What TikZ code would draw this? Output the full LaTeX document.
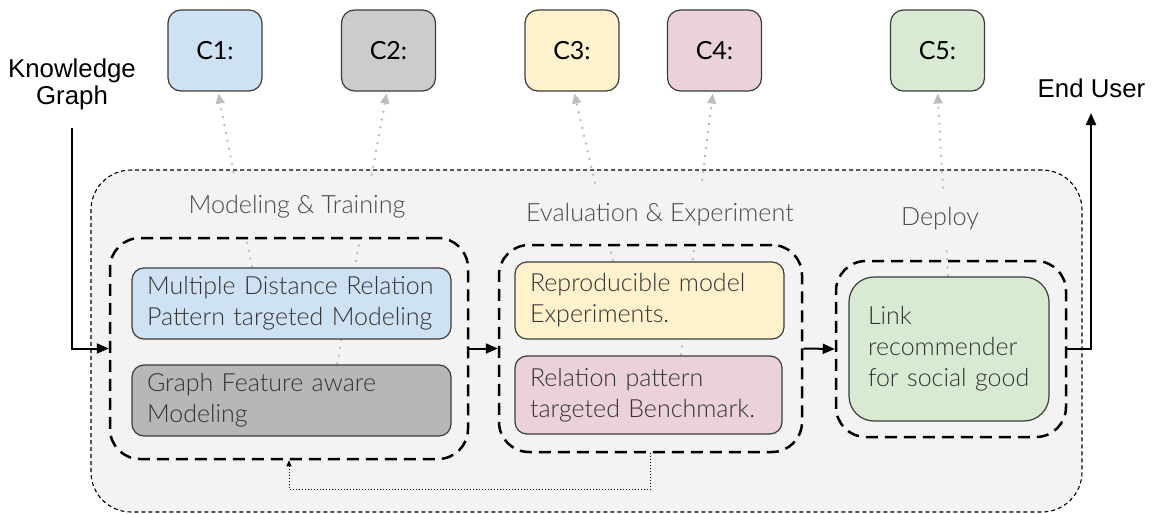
\documentclass[tikz,border=0pt]{standalone}
\usepackage{fontspec}
\setmainfont{Lato}
\IfFontExistsTF{Lato Light}{\newfontfamily\lightfont{Lato Light}}{\newfontfamily\lightfont{Lato}}
\newfontfamily\arialfont{Liberation Sans}
\usetikzlibrary{arrows.meta,calc}

\definecolor{outerfill}{HTML}{F3F3F3}
\definecolor{boxline}{HTML}{3C3C3C}
\definecolor{textgray}{HTML}{333333}
\definecolor{labelgray}{HTML}{4A4A4A}
\definecolor{linkgray}{HTML}{BDBDBD}
\definecolor{cblue}{HTML}{CFE2F3}
\definecolor{cgraylight}{HTML}{CCCCCC}
\definecolor{cgray}{HTML}{B7B7B7}
\definecolor{cyellow}{HTML}{FFF2CC}
\definecolor{cpink}{HTML}{EAD1DC}
\definecolor{cgreen}{HTML}{D9EAD3}

\pgfdeclarelayer{bg}
\pgfdeclarelayer{links}
\pgfsetlayers{bg,links,main}

\tikzset{
  cbox/.style={draw=boxline, line width=1.2pt, rounded corners=13pt,
    minimum width=94pt, minimum height=81pt, inner sep=0pt,
    font=\fontsize{25}{29}\selectfont, text=black},
  group/.style={draw=black, line width=2.5pt, dash pattern=on 12pt off 7pt,
    rounded corners=30pt, inner sep=0pt},
  task/.style={draw=boxline, line width=1.2pt, rounded corners=12pt,
    align=left, inner xsep=15pt, inner ysep=0pt,
    font=\lightfont\fontsize{25}{31}\selectfont, text=textgray},
  stage/.style={fill=outerfill, inner xsep=3pt, inner ysep=0pt,
    minimum height=58pt, font=\lightfont\fontsize{25.2}{29}\selectfont,
    text=labelgray},
  link/.style={draw=linkgray, line width=2pt, dash pattern=on 2pt off 6pt,
    shorten >=2pt, -{Triangle[length=10pt,width=9pt]}},
  flow/.style={draw=black, line width=2pt, -{Triangle[length=12pt,width=10pt]}},
  back/.style={draw=black, line width=1pt, dash pattern=on 1pt off 2pt,
    -{Triangle[length=6pt,width=5pt]}},
  outside/.style={font=\arialfont\fontsize{25.8}{27}\selectfont, align=center}
}

\begin{document}
\begin{tikzpicture}[x=1pt,y=-1pt]
\useasboundingbox (0,0) rectangle (1154,514);

% contribution boxes
\node[cbox, fill=cblue]      (c1) at (215,50.5)   {C1:};
\node[cbox, fill=cgraylight] (c2) at (388.5,50.5) {C2:};
\node[cbox, fill=cyellow]    (c3) at (572,50.5)   {C3:};
\node[cbox, fill=cpink]      (c4) at (714.5,50.5) {C4:};
\node[cbox, fill=cgreen]     (c5) at (937.5,50.5) {C5:};

% pipeline frame
\begin{pgfonlayer}{bg}
\node[draw=black, fill=outerfill, line width=1.1pt, dash pattern=on 4pt off 3pt,
  rounded corners=40pt, minimum width=991pt, minimum height=342pt, inner sep=0pt]
  (frame) at (586.5,341) {};
\end{pgfonlayer}

% stage titles
\node[stage] (s1) at (297,207) {Modeling \& Training};
\node[stage] (s2) at (660,215) {Evaluation \& Experiment};
\node[stage] (s3) at (940,219) {Deploy};

% stage groups
\node[group, minimum width=358pt, minimum height=221pt] (g1) at (289,348.5) {};
\node[group, minimum width=303pt, minimum height=207pt] (g2) at (650.5,348.5) {};
\node[group, minimum width=230pt, minimum height=176pt] (g3) at (951,349) {};

% tasks
\node[task, fill=cblue, text width=289pt, minimum height=71pt] (blue) at (291.5,303.5)
  {\mbox{Multiple Distance Relation}\\\mbox{Pattern targeted Modeling}};
\node[task, fill=cgray, text width=289pt, minimum height=71pt] (gray) at (291.5,400.5)
  {Graph Feature aware\\Modeling};
\node[task, fill=cyellow, text width=239pt, minimum height=77pt] (yellow) at (649.5,300.5)
  {Reproducible model\\Experiments.};
\node[task, fill=cpink, text width=237pt, minimum height=78pt] (pink) at (648.5,395)
  {Relation pattern\\targeted Benchmark.};
\node[task, fill=cgreen, rounded corners=25pt, inner xsep=19pt, text width=162pt,
  minimum height=144pt] (green) at (949,349)
  {Link\\recommender\\\mbox{for social good}};

% tasks to contributions
\begin{pgfonlayer}{links}
\draw[link] ([xshift=-39.5pt]blue.north) -- ([xshift=3pt]c1.south);
\draw[link] ([xshift=45.5pt]gray.north) -- ([xshift=-1.5pt]c2.south);
\draw[link] ([xshift=-36.5pt]yellow.north) -- ([xshift=2pt]c3.south);
\draw[link] ([xshift=32.5pt]pink.north) -- ([xshift=-1.5pt]c4.south);
\draw[link] ([xshift=-1pt]green.north) -- (c5.south);
\end{pgfonlayer}

% input and output
\node[outside] (kg) at (72,84) {Knowledge\\Graph};
\node[outside] (eu) at (1091.5,88) {End User};
\coordinate (kgin) at (72,128);
\coordinate (euout) at (1091,113);

\draw[flow] (kgin) |- (g1.west);
\draw[flow] (g1.east) -- (g2.west);
\draw[flow] (g2.east) -- (g3.west);
\draw[flow] (g3.east) -| (euout);
\draw[back] (g2.south) -- ++(0,36) -| (g1.south);
\end{tikzpicture}
\end{document}
